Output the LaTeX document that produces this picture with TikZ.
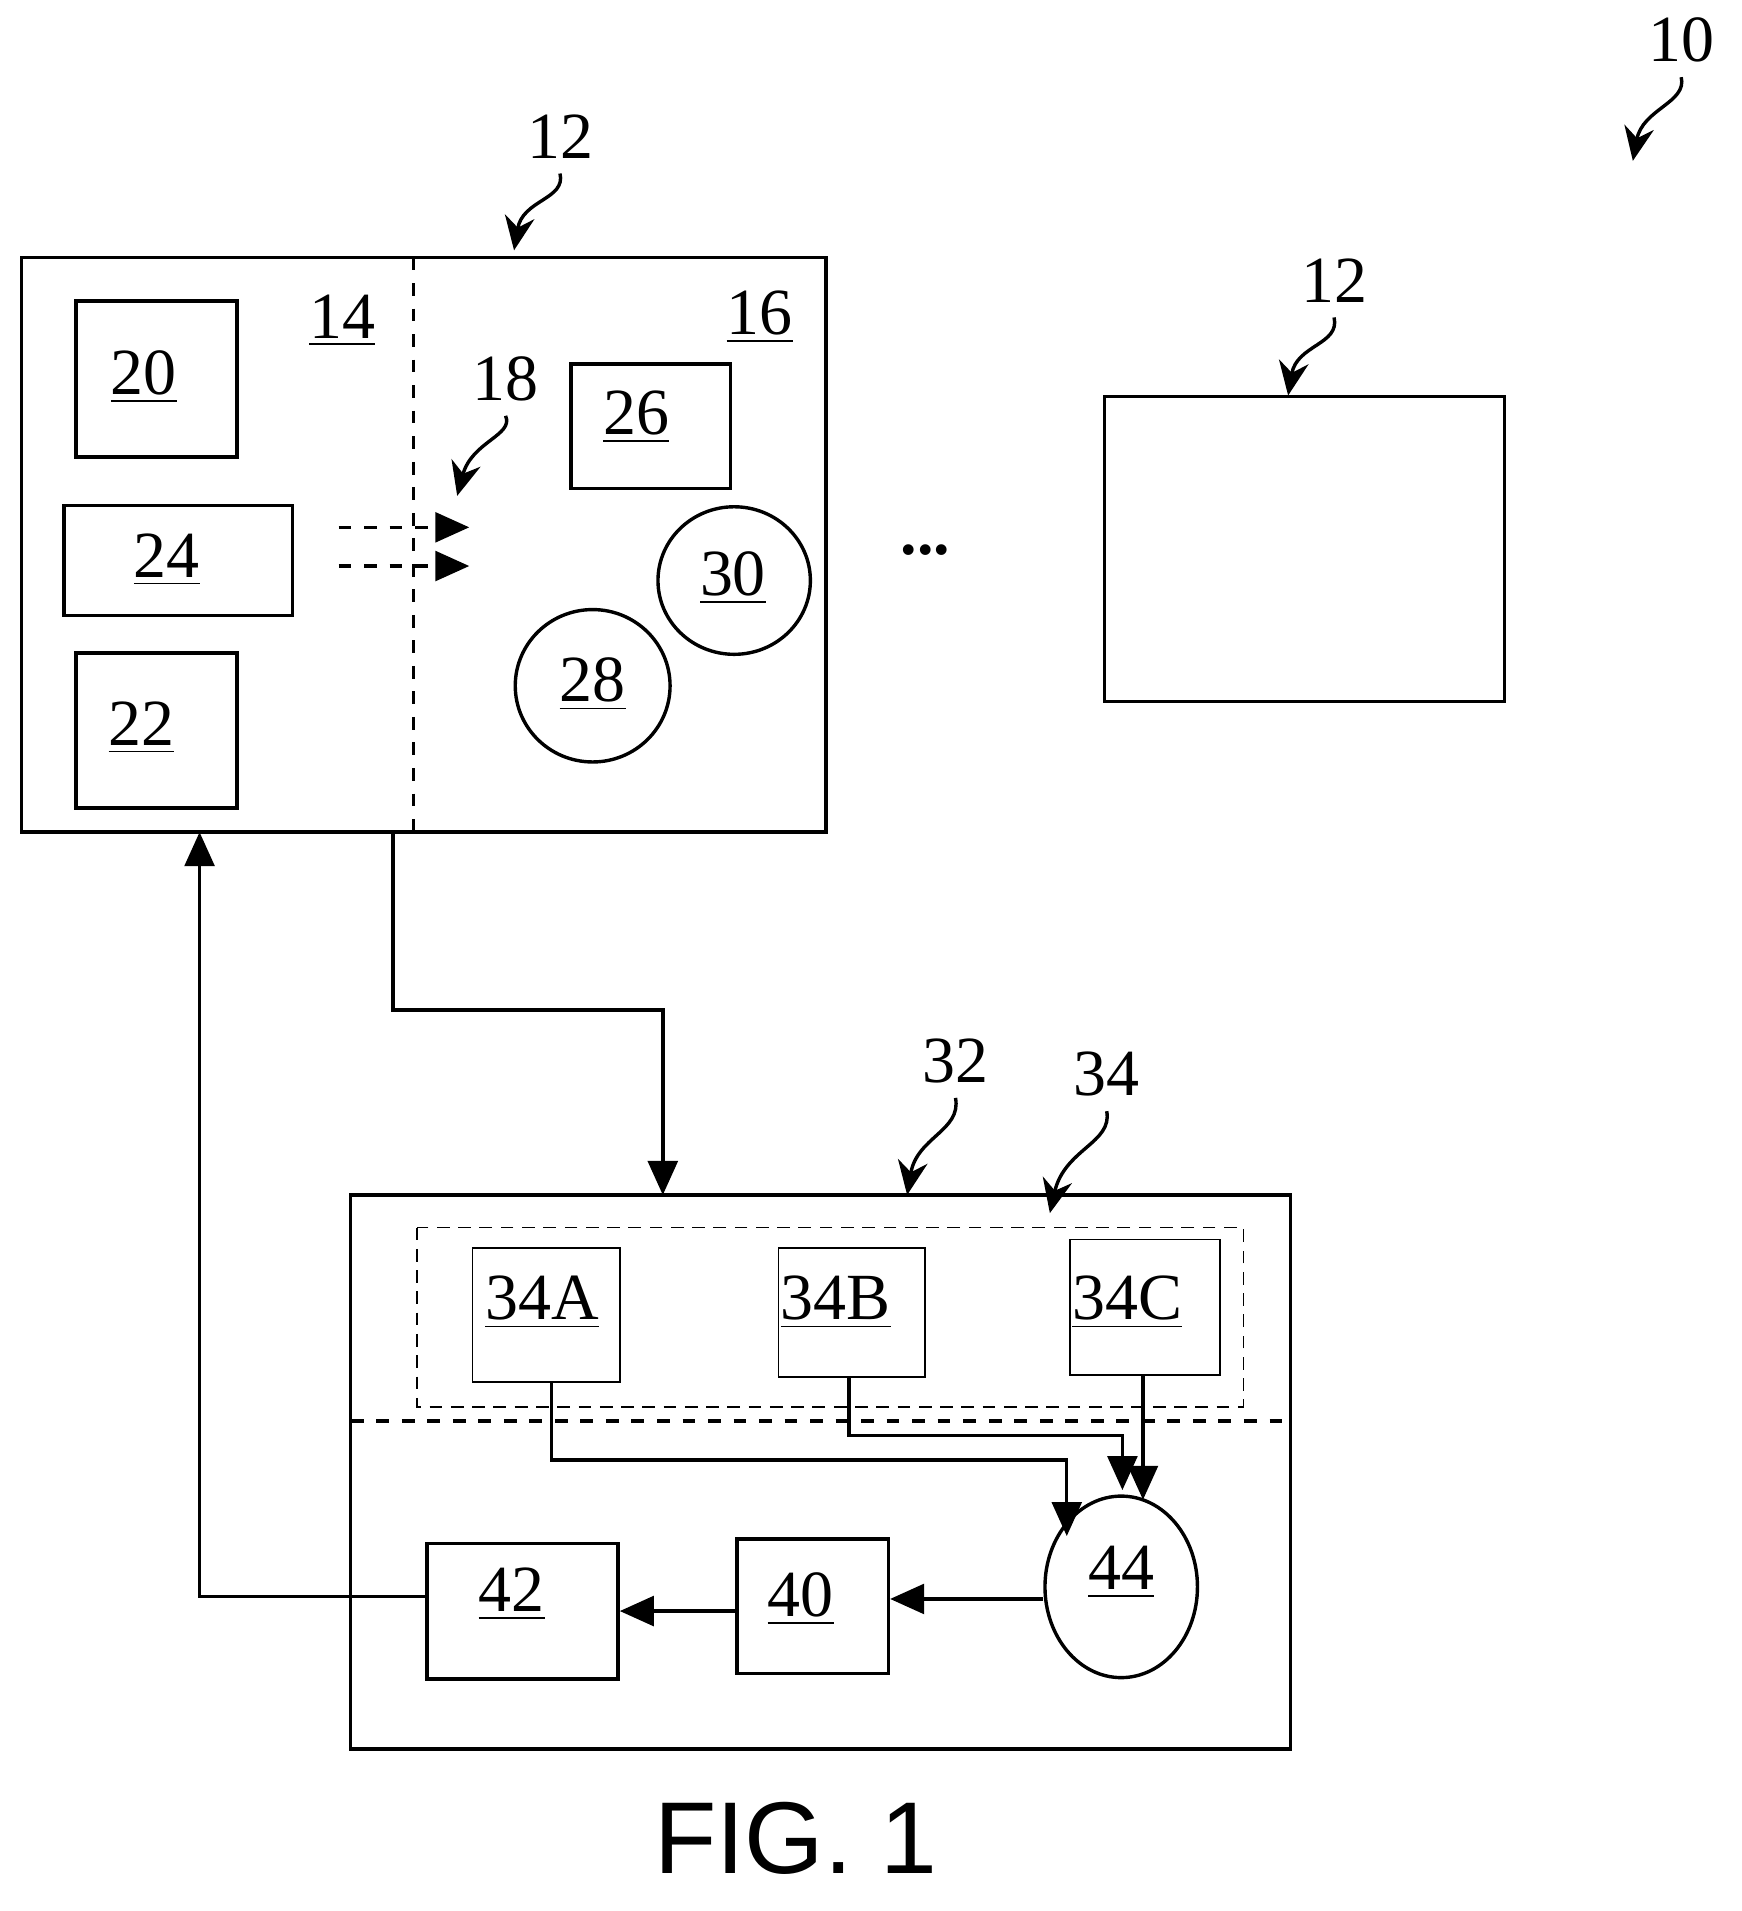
\documentclass[tikz,border=0pt]{standalone}
\usepackage{fontspec}
\setmainfont{Liberation Serif}
\newfontfamily\figfont{Liberation Sans}
\usetikzlibrary{arrows.meta,shapes.geometric}
\tikzset{
  blk/.style={draw,thick,inner sep=0pt},
  num/.style={font=\fontsize{15.5}{18}\selectfont},
  arr/.style={thick,-{Triangle[length=8pt,width=7pt]}},
  sq/.style={thick,-{Stealth[length=8pt,width=7pt]}}
}
\newcommand{\un}[1]{\underline{#1}}
\begin{document}
\begin{tikzpicture}[x=0.01cm,y=-0.01cm]
\useasboundingbox (0,0) rectangle (1440,1580);
% device 12
\draw[thick] (18,213) rectangle (683,688);
\draw[thick,dashed] (342,213) -- (342,688);
\node[num] at (283,265){\un{14}};
\node[num] at (628,262){\un{16}};
\draw[thick] (63,249) rectangle (196,378); \node[num] (n20) at (119,312){\un{20}};
\draw[thick] (53,418) rectangle (242,509); \node[num] (n24) at (138,463){\un{24}};
\draw[thick] (63,540) rectangle (196,668); \node[num] (n22) at (117,602){\un{22}};
\draw[thick] (472,301) rectangle (604,404); \node[num] (n26) at (526,345){\un{26}};
\draw[thick] (607,480) ellipse [x radius=63,y radius=61]; \node[num] (n30) at (606,478){\un{30}};
\draw[thick] (490,567) ellipse [x radius=64,y radius=63]; \node[num] (n28) at (490,566){\un{28}};
\coordinate (d1) at (280,436); \coordinate (d1e) at (388,436);
\coordinate (d2) at (280,468); \coordinate (d2e) at (388,468);
\draw[arr,dashed] (d1) -- (d1e);
\draw[arr,dashed] (d2) -- (d2e);
\node[num] (n18) at (418,313){18};
\coordinate (t18) at (378,410);
\draw[sq] (n18.south) .. controls (425,360) and (390,365) .. (t18);
\node[num] at (765,455){\textbf{...}};
% second device 12
\draw[thick] (913,328) rectangle (1244,580);
\node[num] (n12b) at (1103,232){12};
\coordinate (t12b) at (1065,327);
\draw[sq] (n12b.south) .. controls (1108,285) and (1072,285) .. (t12b);
\node[num] (n12a) at (463,113){12};
\coordinate (t12a) at (425,207);
\draw[sq] (n12a.south) .. controls (468,165) and (432,165) .. (t12a);
\node[num] (n10) at (1390,33){10};
\coordinate (t10) at (1350,133);
\draw[sq] (n10.south) .. controls (1395,85) and (1358,90) .. (t10);
% system 32
\draw[thick] (290,988) rectangle (1067,1446);
\draw[thick,dashed] (290,1175) -- (1060,1175);
\draw[dash pattern=on 3pt off 2pt] (345,1015) rectangle (1028,1163);
\node[draw,minimum width=1.22cm,minimum height=1.11cm,anchor=north west] (a) at (390,1031){};
\node[num] at (448,1077){\un{34A}};
\node[draw,minimum width=1.21cm,minimum height=1.07cm,anchor=north west] (b) at (643,1031){};
\node[num] at (691,1077){\un{34B}};
\node[draw,minimum width=1.24cm,minimum height=1.12cm,anchor=north west] (c) at (884,1024){};
\node[num] at (932,1077){\un{34C}};
\node[blk,ellipse,minimum width=1.26cm,minimum height=1.5cm] (e44) at (927,1312){};
\node[num] at (927,1300){\un{44}};
\node[blk,minimum width=1.25cm,minimum height=1.11cm] (b40) at (672,1328){};
\node[num] at (662,1322){\un{40}};
\node[blk,minimum width=1.58cm,minimum height=1.12cm] (b42) at (432,1332){};
\node[num] at (423,1318){\un{42}};
\node[num] (n32) at (790,877){32};
\coordinate (t32) at (750,988);
\draw[sq] (n32.south) .. controls (795,935) and (758,940) .. (t32);
\node[num] (n34) at (915,888){34};
\coordinate (t34) at (868,1003);
\draw[sq] (n34.south) .. controls (920,945) and (880,950) .. (t34);
% connectors
\coordinate (out) at (325,688);
\draw[arr] (out) |- (548,835) -- (548,988);
\draw[arr] (a.south-|456,0) -- (456,1207) -- (882,1207) -- (882,1270);
\draw[arr] (b.south-|702,0) -- (702,1187) -- (928,1187) -- (928,1232);
\draw[arr] (c.south-|945,0) -- (945,1240);
\draw[arr] (e44.west|-0,1322) -- (b40.east|-0,1322);
\draw[arr] (b40.west|-0,1332) -- (b42.east|-0,1332);
\coordinate (in) at (165,688);
\draw[arr] (b42.west|-0,1320) -| (in);
\node[font=\figfont\fontsize{24}{28}\selectfont] at (658,1520){FIG. 1};
\end{tikzpicture}
\end{document}
